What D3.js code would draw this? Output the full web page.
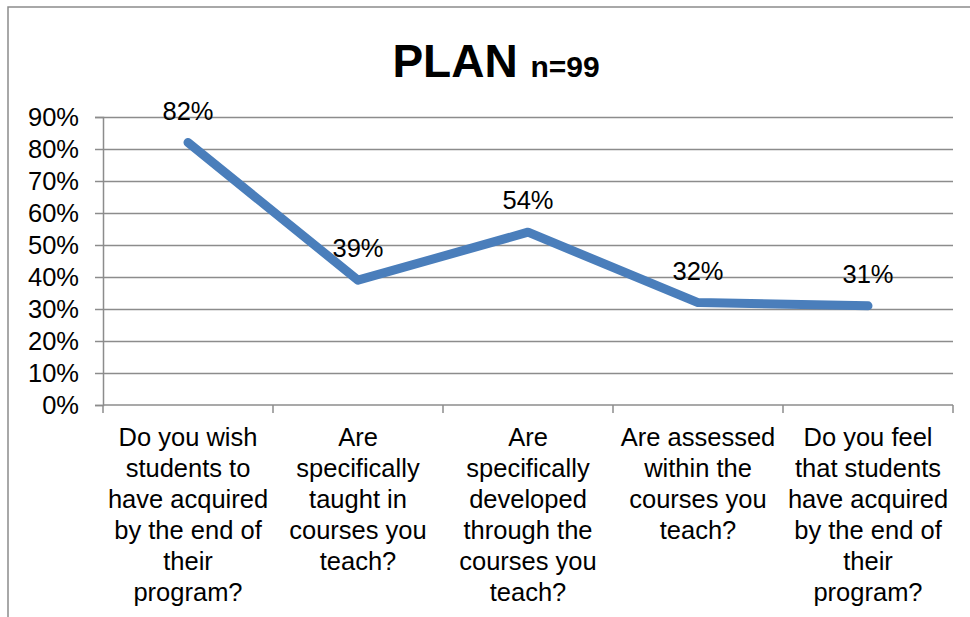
<!DOCTYPE html>
<html>
<head>
<meta charset="utf-8">
<script src="https://cdn.jsdelivr.net/npm/d3@7.9.0/dist/d3.min.js"></script>
<style>
  html, body { margin: 0; padding: 0; background: #fff; }
  svg { display: block; font-family: "Liberation Sans", Arial, sans-serif; }
</style>
</head>
<body>
<div id="chart"></div>
<script>
// Chart data
const categories = [
  ['Do you wish', 'students to', 'have acquired', 'by the end of', 'their', 'program?'],
  ['Are', 'specifically', 'taught in', 'courses you', 'teach?'],
  ['Are', 'specifically', 'developed', 'through the', 'courses you', 'teach?'],
  ['Are assessed', 'within the', 'courses you', 'teach?'],
  ['Do you feel', 'that students', 'have acquired', 'by the end of', 'their', 'program?']
];
const values = [0.82, 0.39, 0.54, 0.32, 0.31];
const yTicks = [0, 0.1, 0.2, 0.3, 0.4, 0.5, 0.6, 0.7, 0.8, 0.9];

const width = 970;
const height = 617;
const plot = { left: 103, right: 953, top: 117, bottom: 405 };

const svg = d3.select('#chart')
  .append('svg')
  .attr('width', width)
  .attr('height', height);

// Outer chart frame (only top and left edges are visible)
svg.append('path')
  .attr('d', `M8,${height} L8,7 L${width},7`)
  .attr('fill', 'none')
  .attr('stroke', '#8c8c8c')
  .attr('stroke-width', 1.5);

// Title
const title = svg.append('text')
  .attr('x', 496)
  .attr('y', 77)
  .attr('text-anchor', 'middle')
  .attr('font-weight', 'bold')
  .attr('fill', '#000');
title.append('tspan').attr('font-size', 46).text('PLAN ');
title.append('tspan').attr('font-size', 30).text('n=99');

// Scales
const xScale = d3.scaleBand()
  .domain(d3.range(categories.length))
  .range([plot.left, plot.right]);

const yScale = d3.scaleLinear()
  .domain([0, 0.9])
  .range([plot.bottom, plot.top]);

// Gridlines
svg.append('g')
  .attr('transform', `translate(${plot.left},0)`)
  .call(d3.axisLeft(yScale).tickValues(yTicks.slice(1)).tickFormat('').tickSize(-(plot.right - plot.left)))
  .call(g => g.select('.domain').remove())
  .call(g => g.selectAll('line').attr('stroke', '#8c8c8c').attr('stroke-width', 1.5));

// Y axis
svg.append('g')
  .attr('transform', `translate(${plot.left},0)`)
  .call(d3.axisLeft(yScale).tickValues(yTicks).tickFormat(d3.format('.0%')).tickSize(8).tickPadding(16))
  .call(g => g.select('.domain').attr('stroke', '#8c8c8c').attr('stroke-width', 1.5))
  .call(g => g.selectAll('line').attr('stroke', '#8c8c8c').attr('stroke-width', 1.5))
  .call(g => g.selectAll('text')
    .attr('font-size', 25.5)
    .attr('font-family', '"Liberation Sans", Arial, sans-serif')
    .attr('fill', '#000'));

// X axis (ticks between categories)
const xEdges = d3.range(categories.length + 1).map(i =>
  i < categories.length ? xScale(i) : xScale(i - 1) + xScale.bandwidth());
const xAxisG = svg.append('g');
xAxisG.append('line')
  .attr('x1', plot.left).attr('x2', plot.right)
  .attr('y1', plot.bottom).attr('y2', plot.bottom)
  .attr('stroke', '#8c8c8c').attr('stroke-width', 1.5);
xAxisG.selectAll('.tick')
  .data(xEdges)
  .join('line')
  .attr('x1', d => d).attr('x2', d => d)
  .attr('y1', plot.bottom).attr('y2', plot.bottom + 8)
  .attr('stroke', '#8c8c8c').attr('stroke-width', 1.5);

// Category labels
svg.append('g')
  .selectAll('text')
  .data(categories)
  .join('text')
  .attr('text-anchor', 'middle')
  .attr('font-size', 25.5)
  .attr('fill', '#000')
  .each(function (lines, i) {
    const cx = xScale(i) + xScale.bandwidth() / 2;
    d3.select(this).selectAll('tspan')
      .data(lines)
      .join('tspan')
      .attr('x', cx)
      .attr('y', (d, j) => 446 + j * 31)
      .text(d => d);
  });

// Line
const line = d3.line()
  .x((d, i) => xScale(i) + xScale.bandwidth() / 2)
  .y(d => yScale(d));

svg.append('path')
  .datum(values)
  .attr('d', line)
  .attr('fill', 'none')
  .attr('stroke', '#4a7ebb')
  .attr('stroke-width', 9)
  .attr('stroke-linecap', 'round')
  .attr('stroke-linejoin', 'round');

// Data labels
svg.append('g')
  .selectAll('text')
  .data(values)
  .join('text')
  .attr('x', (d, i) => xScale(i) + xScale.bandwidth() / 2)
  .attr('y', d => yScale(d) - 23)
  .attr('text-anchor', 'middle')
  .attr('font-size', 25.5)
  .attr('fill', '#000')
  .text(d => d3.format('.0%')(d));
</script>
</body>
</html>
